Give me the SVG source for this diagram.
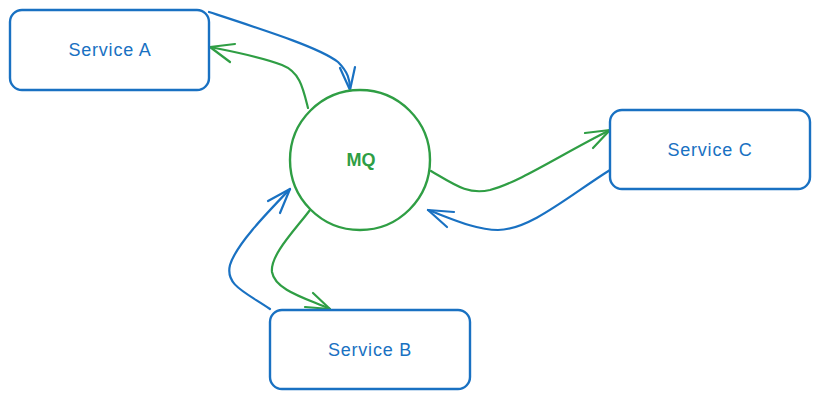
<svg xmlns="http://www.w3.org/2000/svg" width="820" height="400" viewBox="0 0 820 400">
<style>
.box{fill:#fff;stroke:#1971c2;stroke-width:2.4}
.circ{fill:#fff;stroke:#2f9e44;stroke-width:2.4}
.lb{font-family:"Liberation Sans","DejaVu Sans",sans-serif;font-size:18px;letter-spacing:0.8px;fill:#1971c2;text-anchor:middle;dominant-baseline:central}
.lg{font-family:"Liberation Sans","DejaVu Sans",sans-serif;font-size:18px;font-weight:bold;fill:#2f9e44;text-anchor:middle;dominant-baseline:central}
.cb{fill:none;stroke:#1971c2;stroke-width:2.2;stroke-linecap:round;stroke-linejoin:round}
.cg{fill:none;stroke:#2f9e44;stroke-width:2.2;stroke-linecap:round;stroke-linejoin:round}
</style>
<rect width="820" height="400" fill="#fff"/>
<g id="connectors">
  <path class="cb" d="M209,12 C270,32 320,48 338,62 C348,72 350,80 350,89"/>
  <path class="cb" d="M340,68 L350,90 L355,67"/>
  <path class="cg" d="M308,108 C303,88 300,72 282,65 C262,57 235,52 210,47"/>
  <path class="cg" d="M235,44 L210,47 L230,62"/>
  <path class="cg" d="M431,171 C455,185 468,195 490,190 C520,182 560,155 610,130"/>
  <path class="cg" d="M585,133 L610,130 L593,148"/>
  <path class="cb" d="M610,170 C570,195 530,230 498,230 C475,230 450,218 428,210"/>
  <path class="cb" d="M454,212 L428,210 L447,227"/>
  <path class="cg" d="M310,210 C295,230 270,255 272,272 C275,290 305,298 330,309"/>
  <path class="cg" d="M313,293 L330,309 L305,307"/>
  <path class="cb" d="M270,309 C245,292 225,285 230,265 C236,245 265,215 290,189"/>
  <path class="cb" d="M268,201 L290,189 L280,213"/>
</g>
<g id="serviceA">
  <rect class="box" x="10" y="10" width="199" height="80" rx="12"/>
  <text class="lb" x="110" y="50">Service A</text>
</g>
<g id="mq">
  <circle class="circ" cx="360" cy="160" r="70"/>
  <text class="lg" x="361" y="160">MQ</text>
</g>
<g id="serviceC">
  <rect class="box" x="610" y="110" width="200" height="79" rx="12"/>
  <text class="lb" x="710" y="150">Service C</text>
</g>
<g id="serviceB">
  <rect class="box" x="270" y="310" width="200" height="79" rx="12"/>
  <text class="lb" x="370" y="350">Service B</text>
</g>
</svg>
